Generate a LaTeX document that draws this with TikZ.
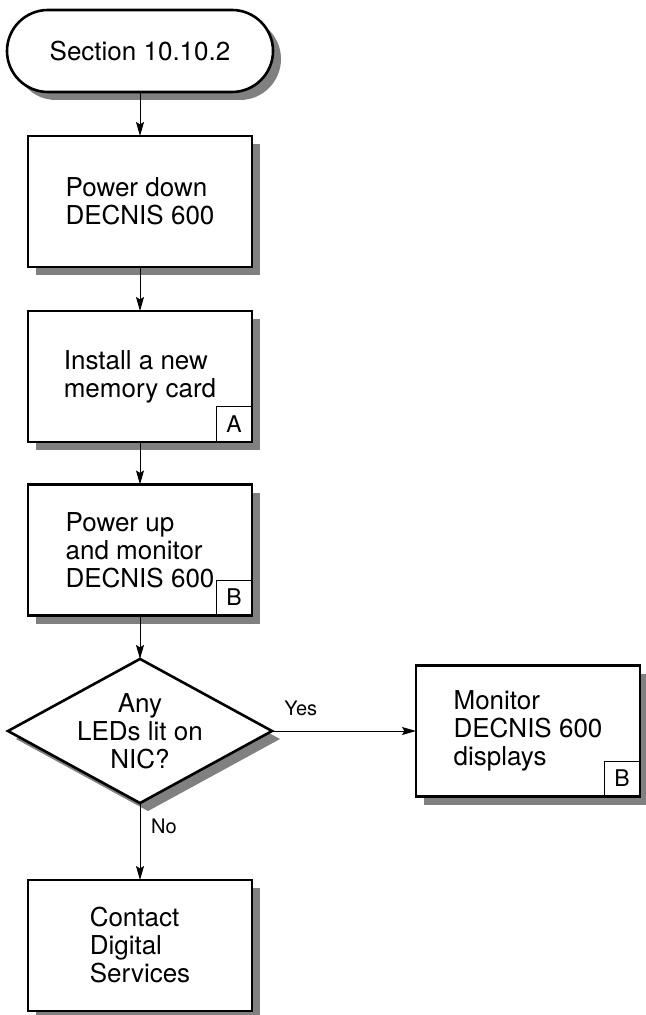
\documentclass[tikz,border=0pt]{standalone}
\usepackage{fontspec}
\setmainfont{TeX Gyre Heros}
\usetikzlibrary{arrows.meta,shapes.geometric,shadows}

\begin{document}
\begin{tikzpicture}[x=0.5pt,y=-0.5pt,
  font=\fontsize{13}{14}\selectfont,
  shadowed/.style={drop shadow={shadow xshift=4pt,shadow yshift=-4pt,fill=black!50,opacity=1}},
  stepbox/.style={draw,line width=1.3pt,fill=white,shadowed,align=left,outer sep=0pt,
    minimum width=112pt,minimum height=65.5pt,inner sep=2pt},
  term/.style={stepbox,align=center,rounded corners=20.5pt,minimum width=133pt,minimum height=41pt},
  query/.style={diamond,draw,line width=1.3pt,fill=white,shadowed,align=center,outer sep=0pt,
    aspect=1.83,inner sep=0pt,minimum width=132pt,minimum height=72pt},
  tag/.style={draw,line width=0.5pt,minimum size=17.5pt,inner sep=0pt,anchor=south east,
    font=\fontsize{11.5}{12}\selectfont},
  arr/.style={-{Stealth[length=7pt,width=4pt,inset=1.2pt]},line width=0.5pt},
  lbl/.style={font=\fontsize{10}{11}\selectfont}]
\useasboundingbox (0,0) rectangle (645,1015);

% ---- main column
\node[term] (start) at (140,51) {Section 10.10.2};
\node[stepbox] (down) at (140,201.5) {Power down\\DECNIS 600};
\node[stepbox] (card) at (140,376.5) {Install a new\\memory card};
\node[stepbox] (up) at (140,550) {Power up\\and monitor\\DECNIS 600};
\node[query] (leds) at (140,731) {Any\\LEDs lit on\\NIC?};
\node[stepbox] (call) at (140,945.5) {Contact\\Digital\\Services};

% ---- side branch
\node[stepbox] (watch) at (528,731) {Monitor\\DECNIS 600\\displays};

% ---- reference tags
\node[tag] (tagA) at (card.south east) {A};
\node[tag] (tagB) at (up.south east) {B};
\node[tag] (tagW) at (watch.south east) {B};

% ---- flow
\draw[arr] (start.south)--(down.north);
\draw[arr] (down.south)--(card.north);
\draw[arr] (card.south)--(up.north);
\draw[arr] (up.south)--(leds.north);
\draw[arr] (leds.east)--node[lbl,pos=0.2,above=4pt]{Yes}(watch.west);
\draw[arr] (leds.south)--node[lbl,pos=0.3,right=2pt]{No}(call.north);
\end{tikzpicture}
\end{document}
